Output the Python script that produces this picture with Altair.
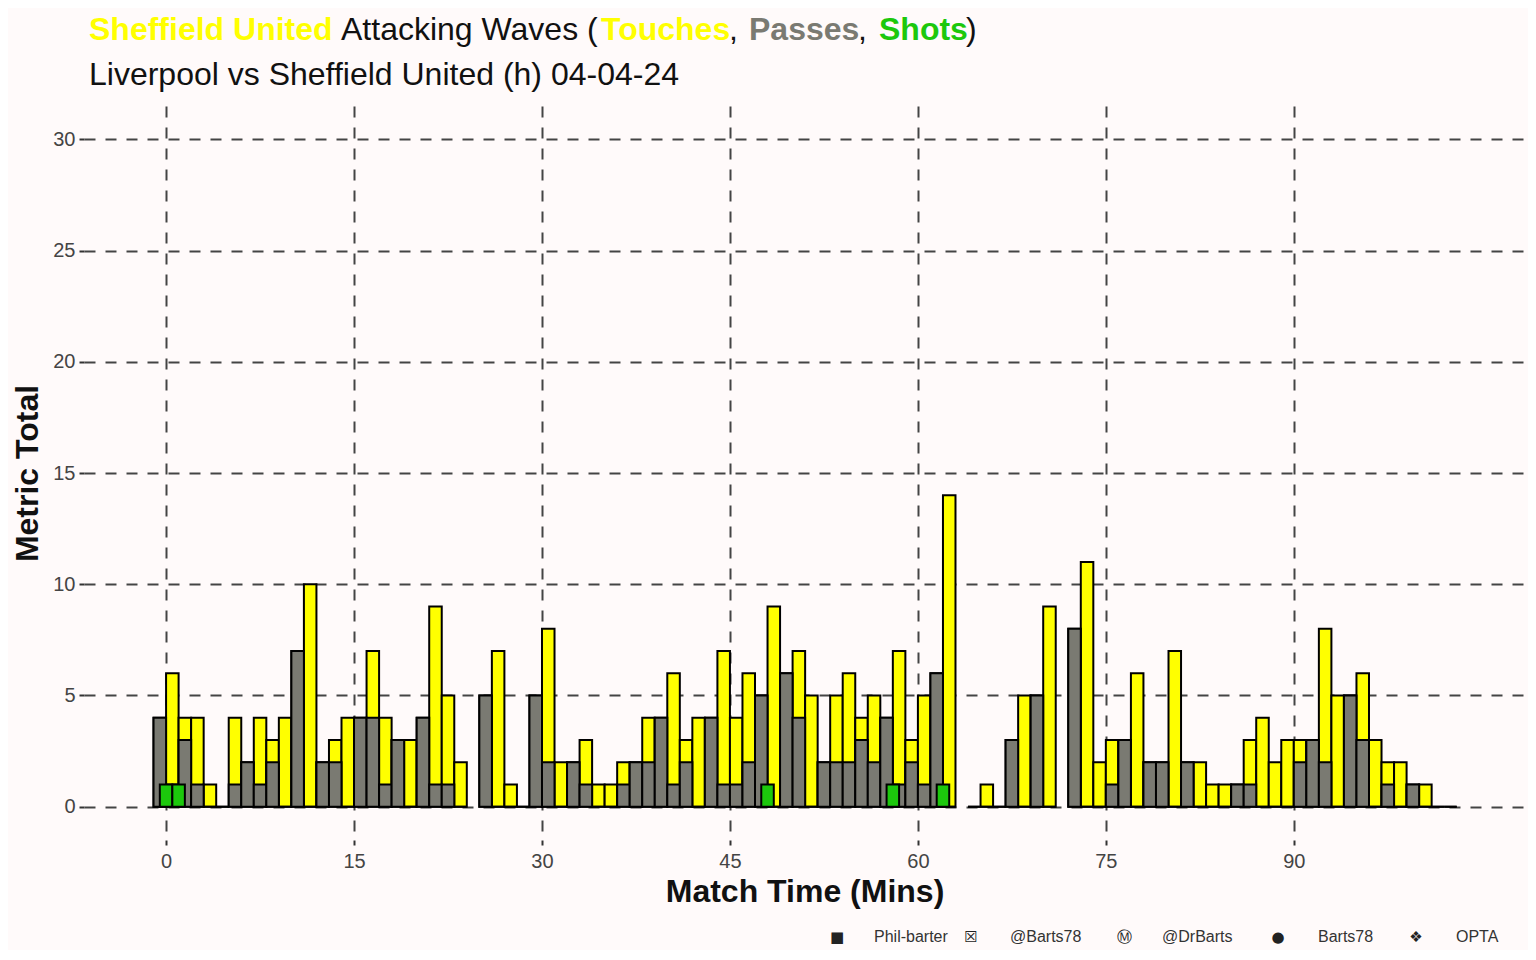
import altair as alt
import pandas as pd

# one bar per minute slot: slot covers [start, start + 1]; None = no wave recorded
slot_start = list(range(-1, 103))
touches = [
    4, 6, 4, 4, 1, 0, 4, 2, 4, 3, 4, 7, 10, 2, 3, 4, 4, 7, 4, 3,
    3, 4, 9, 5, 2, None, 5, 7, 1, 0, 5, 8, 2, 2, 3, 1, 1, 2, 2, 4,
    4, 6, 3, 4, 4, 7, 4, 6, 5, 9, 6, 7, 5, 2, 5, 6, 4, 5, 4, 7,
    3, 5, 6, 14, None, 0, 1, 0, 3, 5, 5, 9, None, 8, 11, 2, 3, 3, 6, 2,
    2, 7, 2, 2, 1, 1, 1, 3, 4, 2, 3, 3, 3, 8, 5, 5, 6, 3, 2, 2,
    1, 1, 0, 0,
]
passes = [
    4, 1, 3, 1, 0, 0, 1, 2, 1, 2, 0, 7, 0, 2, 2, 0, 4, 4, 1, 3,
    0, 4, 1, 1, 0, None, 5, 0, 0, 0, 5, 2, 0, 2, 1, 0, 0, 1, 2, 2,
    4, 1, 2, 0, 4, 1, 1, 2, 5, 0, 6, 4, 0, 2, 2, 2, 3, 2, 4, 1,
    2, 1, 6, 0, None, 0, 0, 0, 3, 0, 5, 0, None, 8, 0, 0, 1, 3, 0, 2,
    2, 0, 2, 0, 0, 0, 1, 1, 0, 0, 0, 2, 3, 2, 0, 5, 3, 0, 1, 0,
    1, 0, 0, 0,
]

shot_minute = [0, 1, 48, 58, 62]
shots = [1, 1, 1, 1, 1]

x_ticks = [0, 15, 30, 45, 60, 75, 90]
y_ticks = [0, 5, 10, 15, 20, 25, 30]

title_parts = ["Sheffield United", "Attacking Waves (", "Touches", ",", "Passes", ",", "Shots", ")"]
subtitle = "Liverpool vs Sheffield United (h) 04-04-24"
caption_icons = ["\u25a0", "\u2612", "\u24c2", "\u25cf", "\u2756"]
caption_texts = ["Phil-barter", "@Barts78", "@DrBarts", "Barts78", "OPTA"]

BG = "#FFFAFA"
YELLOW = "#FFFF00"
GREY = "#7A7A72"
GREEN = "#1CC80C"
INK = "#111111"
FONT = "Liberation Sans"

W, H = 1441, 734

waves = pd.DataFrame({"start": slot_start, "touches": touches, "passes": passes}).dropna()
waves["zero"] = 0
shot_df = pd.DataFrame({"minute": shot_minute, "shots": shots})
shot_df["zero"] = 0

x_scale = alt.Scale(domain=[-6.55, 108.45], nice=False, zero=False)
y_scale = alt.Scale(domain=[-1.5, 31.5], nice=False, zero=False)

x_axis = alt.Axis(
    values=x_ticks, title="Match Time (Mins)", titleFont=FONT, titleFontSize=32,
    titleFontWeight="bold", titleColor=INK, titleX=W / 2, titleY=61,
    titleAlign="center", titleBaseline="alphabetic",
    labelFont=FONT, labelFontSize=20, labelColor="#444444", labelPadding=6,
    labelFlush=False, tickSize=5, tickWidth=2, tickColor="#333333",
    domain=False, grid=True, gridDash=[11, 10], gridColor="#444444", gridWidth=2,
)
y_axis = alt.Axis(
    values=y_ticks, title="Metric Total", titleFont=FONT, titleFontSize=32,
    titleFontWeight="bold", titleColor=INK, titleAngle=-90, titleX=-47,
    titleY=H / 2, titleAlign="center", titleBaseline="alphabetic",
    labelFont=FONT, labelFontSize=20, labelColor="#444444", labelPadding=4,
    tickSize=5, tickWidth=2, tickColor="#333333",
    domain=False, grid=True, gridDash=[11, 10], gridColor="#444444", gridWidth=2,
)

base = alt.Chart(waves).transform_calculate(end="datum.start + 1")

# touches first, passes drawn over them
touch_bars = base.mark_bar(color=YELLOW, stroke="black", strokeWidth=2).encode(
    alt.X("start:Q", scale=x_scale, axis=x_axis),
    alt.X2("end:Q"),
    alt.Y("touches:Q", scale=y_scale, axis=y_axis),
    alt.Y2("zero:Q"),
)
pass_bars = base.mark_bar(color=GREY, stroke="black", strokeWidth=2).encode(
    alt.X("start:Q", scale=x_scale, axis=x_axis),
    alt.X2("end:Q"),
    alt.Y("passes:Q", scale=y_scale, axis=y_axis),
    alt.Y2("zero:Q"),
)

# shots sit centred on the minute itself
shot_bars = (
    alt.Chart(shot_df)
    .transform_calculate(lo="datum.minute - 0.5", hi="datum.minute + 0.5")
    .mark_bar(color=GREEN, stroke="black", strokeWidth=2)
    .encode(
        alt.X("lo:Q", scale=x_scale, axis=x_axis),
        alt.X2("hi:Q"),
        alt.Y("shots:Q", scale=y_scale, axis=y_axis),
        alt.Y2("zero:Q"),
    )
)

dummy = pd.DataFrame({"k": [0]})


def label(text, x, y, size, color=INK, weight="normal", font=FONT, align="left"):
    return (
        alt.Chart(dummy)
        .mark_text(text=text, font=font, fontSize=size, fontWeight=weight,
                   color=color, align=align, baseline="alphabetic")
        .encode(x=alt.value(x), y=alt.value(y))
    )


# multi-coloured title, built from pieces
title_x = [5, 257, 517, 645, 665, 774, 795, 882]
title_col = [YELLOW, INK, YELLOW, INK, GREY, INK, GREEN, INK]
title_wt = ["bold", "normal", "bold", "normal", "bold", "normal", "bold", "normal"]
texts = [
    label(t, x, -66, 32, c, w)
    for t, x, c, w in zip(title_parts, title_x, title_col, title_wt)
]
texts.append(label(subtitle, 5, -21, 32))

# footer credits
icon_x = [753, 887, 1040, 1194, 1332]
text_x = [790, 926, 1078, 1234, 1372]
for icon, ix, txt, tx in zip(caption_icons, icon_x, caption_texts, text_x):
    texts.append(label(icon, ix, 836, 15, "#222222", font="DejaVu Sans", align="center"))
    texts.append(label(txt, tx, 836, 16, "#333333"))

chart = (
    alt.layer(touch_bars, pass_bars, shot_bars, *texts)
    .properties(
        width=W, height=H,
        autosize=alt.AutoSizeParams(type="none"),
        padding={"left": 76, "top": 98, "right": 3, "bottom": 110},
        background=BG,
    )
    .configure_view(stroke=None)
)

chart.save("out.html", embed_options={"renderer": "svg", "actions": False})
